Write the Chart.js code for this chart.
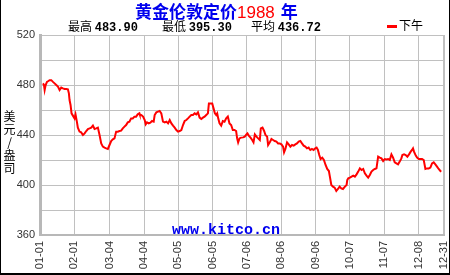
<!DOCTYPE html>
<html>
<head>
<meta charset="utf-8">
<script src="https://cdn.jsdelivr.net/npm/chart.js@4"></script>
<style>
  html, body { margin: 0; padding: 0; background: #fff; }
  #wrap { position: relative; width: 450px; height: 275px; overflow: hidden; font-family: "Noto Sans CJK SC", sans-serif; }
  #c { position: absolute; left: 0; top: 0; }
  .abs { position: absolute; white-space: nowrap; }
  #frame { position: absolute; left: 0; top: 0; width: 450px; height: 275px; box-sizing: border-box;
           border: 1px solid #000; border-top: none; border-bottom-width: 2px; pointer-events: none; }
  #title { left: 135px; top: 1px; font: bold 17px/20px "Noto Sans CJK SC"; color: #0000ee; }
  #title .yr { color: #ff0000; font-family: "Liberation Sans"; font-weight: normal; margin-right: 2px; }
  .stat { top: 19px; font: 12px/14px "Noto Sans CJK SC"; color: #000; }
  .stat b { font-family: "Liberation Mono"; font-weight: bold; }
  #legend { left: 387px; top: 18px; font: 12px/14px "Noto Sans CJK SC"; color: #000; }
  #legend i { display: inline-block; width: 10px; height: 3px; background: #ff0000; vertical-align: middle; margin-right: 2px; }
  #ytitle { left: 2px; top: 110px; font: 12px/14px "Noto Sans CJK SC"; color: #000;
            writing-mode: vertical-rl; text-orientation: upright; letter-spacing: 1px; }
  #mark { left: 172px; top: 223px; font: bold 15px/16px "Liberation Mono"; color: #0000ee; }
</style>
</head>
<body>
<div id="wrap">
  <canvas id="c" width="450" height="275" style="width:450px;height:275px"></canvas>
  <div class="abs" id="title">黄金伦敦定价<span class="yr">1988</span> 年</div>
  <div id="stats"></div>
  <div class="abs" id="legend"><i></i>下午</div>
  <div class="abs" id="ytitle">美元/盎司</div>
  <div class="abs" id="mark">www.kitco.cn</div>
  <div id="frame"></div>
</div>
<script>
// London gold fix, 1988 (PM). x = day of year (0 = Jan 1).
const days = [
  2.7, 3.6, 4.2, 5.1, 6.3, 7.2, 8.7, 10.2, 11.7, 13.2,
  14.7, 16.2, 17.7, 19.2, 20.7, 22.2, 23.7, 25.2, 26.1, 26.7,
  27.6, 28.5, 29.7, 31.2, 32.1, 33.3, 34.2, 35.7, 37.2, 38.8,
  40.3, 41.8, 43.3, 44.8, 46.3, 47.8, 49.3, 50.8, 52.3, 53.8,
  55.3, 56.8, 58.3, 59.8, 61.3, 62.8, 64.3, 65.8, 67.3, 68.8,
  70.3, 71.8, 73.3, 74.8, 76.3, 77.8, 79.3, 80.8, 82.3, 83.8,
  85.3, 86.8, 88.3, 89.8,
  90.1, 91.6, 93.1, 94.6, 95.5, 96.7, 98.2, 99.7, 101.2, 102.7,
  103.6, 105.1, 106.6, 108.1, 109.6, 111.1, 112.7, 114.2, 115.7, 117.2,
  118.7, 120.2, 121.7, 123.2, 124.7, 126.2, 127.7, 129.2, 130.7, 132.2,
  133.7, 135.2, 136.7, 138.2, 139.7, 141.2, 142.7, 144.2, 145.7, 147.2,
  148.7, 150.2, 151.7, 152.6, 153.8, 155.6, 156.8, 158, 159.2, 160.1,
  161, 162.2, 163.7, 165.2, 166.7, 168.2, 169.7, 171.2, 172.7, 174.2,
  175.7, 177.2, 178.1, 179, 180.2, 181.7,
  183.5, 185, 186.5, 187.4, 188.6, 190.2, 191.7, 192.9, 194.1, 195.6,
  197.1, 198.6, 199.5, 201, 202.5, 203.7, 205.2, 206.1, 207.6, 209.1,
  210.6, 212.1, 213.6, 215.1, 216.6, 218.1, 219.6, 220.5, 221.7, 223.2,
  224.7, 226.2, 227.7, 229.2, 230.7, 232.2, 233.7, 235.2, 236.7, 238.2,
  239.7, 241.2, 242.7, 244.2, 245.7, 247.2, 248.7, 249.9, 251.1, 252.3,
  253.5, 255, 256.5, 258, 259.5, 261, 261.9, 263.2, 264.7, 266.2,
  267.7, 269.2, 270.7, 272.2, 273.7,
  275.5, 277, 277.6, 278.5, 280, 281.5, 283, 284.5, 286, 287.5,
  289, 290.5, 292, 293.5, 295, 296.5, 298, 299.5, 301, 302.5,
  304, 305.5, 307, 308.5, 310, 311.5, 313, 314.5, 316, 317.5,
  319, 320.5, 322, 323.5, 325, 326.5, 327.4, 328.9, 330.4, 331.9,
  333.4, 334.9, 336.1, 337, 337.9, 339.5, 340.7, 342.2, 343.7, 345.2,
  346.7, 348.2, 349.7, 351.2, 352.7, 354.2, 355.7, 357.2, 358.7, 360.2,
  361.7, 362.6
];
const prices = [
  481.3, 480, 476, 480, 482.5, 483.0, 483.9, 483.9, 482.5, 481.3,
  480, 478.7, 476, 477.9, 477.3, 476.8, 476.8, 476.5, 473.3, 468,
  464, 457.3, 455.5, 453.3, 456.5, 450.7, 445.9, 442.7, 442.1, 440,
  441.3, 443.2, 444.8, 445.3, 445.9, 447.5, 444.8, 445.3, 445.9, 440,
  433.3, 430.7, 429.9, 429.3, 428.8, 432, 435.2, 436.5, 437.3, 442.7,
  442.7, 443.2, 443.5, 445.3, 446.7, 448, 450.1, 450.7, 453.3, 453.3,
  454.7, 454.7, 456.5, 457.3,
  456.5, 456, 454.7, 452, 448.5, 450.1, 449.3, 449.9, 451.2, 450.7,
  456, 458.1, 458.7, 459.2, 457.3, 450.7, 450.1, 450.7, 449.3, 452,
  449.3, 447.5, 445.9, 444, 442.7, 443.2, 444, 448, 451.2, 452,
  453.3, 454.7, 456, 456, 457.3, 456.5, 458.1, 453.9, 452.8, 453.9,
  454.7, 456, 457.3, 465.3, 465.3, 465.3, 461.3, 457.3, 456, 457.3,
  453.3, 449.3, 447.5, 451.2, 450.7, 453.3, 454.7, 449.3, 448, 444,
  444, 443.2, 437.3, 434.1, 437.3, 437.9,
  438.1, 438.7, 440.5, 441.3, 439.5, 437.9, 436, 434.1, 440.5, 438.7,
  437.3, 436, 445.3, 445.9, 443.2, 440, 438.7, 432, 434.1, 436.8,
  436, 435.2, 434.7, 433.3, 433.3, 432.5, 430.7, 426.1, 428.8, 434.1,
  432.5, 430.7, 432, 431.5, 432.5, 433.3, 434.7, 435.2, 433.3, 431.5,
  430.7, 429.3, 429.9, 428, 428.8, 428, 429.3, 429.9, 428, 424,
  420.8, 421.9, 420, 416, 412.8, 411.2, 406.7, 400, 398.7, 397.9,
  395.3, 396.8, 398.7, 397.3, 396.8,
  398.7, 400, 404, 405.3, 405.9, 406.7, 407.5, 406.7, 408.5, 410.7,
  413.3, 412, 412.8, 409.3, 407.5, 405.9, 408, 410.7, 412, 412.8,
  413.3, 422.7, 421.9, 421.3, 419.2, 420.8, 420.5, 420.8, 420, 424.5,
  421.9, 418.1, 417.3, 416.5, 418.7, 421.3, 424, 424.5, 424, 422.7,
  424.5, 426.7, 428, 429.3, 426.7, 423.5, 421.9, 420.8, 420.8, 420.8,
  420, 412.8, 413.3, 413.3, 413.9, 417.3, 418.1, 416.5, 414.7, 412.8,
  411.2, 410.7
];

// x ticks every 31 days, plus year end
const tickDays = [0, 31, 63, 94, 125, 156, 187, 218, 249, 280, 311, 342, 365];
const tickLabels = ["01-01", "02-01", "03-04", "04-04", "05-05", "06-05", "07-06",
                    "08-06", "09-06", "10-07", "11-07", "12-08", "12-31"];

const statNames = ["最高", "最低", "平均"];
const statValues = ["483.90", "395.30", "436.72"];
const statLeft = [68, 162, 251];

// header line: high / low / average
document.getElementById("stats").innerHTML = statNames
  .map((n, i) => `<div class="abs stat" style="left:${statLeft[i]}px">${n} <b>${statValues[i]}</b></div>`)
  .join("");

const tickFont = { family: "Liberation Sans", size: 11 };

new Chart(document.getElementById("c"), {
  type: "line",
  data: {
    datasets: [{
      label: "下午",
      data: days.map((d, i) => ({ x: d, y: prices[i] })),
      borderColor: "#ff0000",
      borderWidth: 2,
      pointRadius: 0,
      tension: 0,
      fill: false,
    }],
  },
  options: {
    responsive: false,
    animation: false,
    events: [],
    layout: { padding: { top: 35, right: 6, left: 0, bottom: 0 } },
    plugins: { legend: { display: false }, tooltip: { enabled: false } },
    scales: {
      x: {
        type: "linear",
        min: 0,
        max: 365,
        afterBuildTicks: (s) => { s.ticks = tickDays.map((v) => ({ value: v })); },
        // fixed height; drop the edge padding Chart.js reserves for rotated labels
        afterFit: (s) => { s.height = 40; s.paddingLeft = 0; s.paddingRight = 0; },
        grid: {
          color: "#c0c0c0",
          lineWidth: (c) => (c.index === tickDays.length - 1 ? 2 : 1),
          drawTicks: false,
        },
        border: { color: "#b8b8b8", width: 2 },
        ticks: {
          autoSkip: false,
          maxRotation: 90,
          minRotation: 90,
          padding: 6,
          color: "#333",
          font: tickFont,
          callback: (v, i) => tickLabels[i],
        },
      },
      y: {
        min: 360,
        max: 520,
        afterFit: (s) => { s.width = 40; },
        grid: { color: "#c0c0c0", drawTicks: false },
        border: { color: "#b8b8b8", width: 3 },
        ticks: {
          stepSize: 20,
          padding: 5,
          color: "#333",
          font: tickFont,
          callback: (v) => (v % 40 === 0 ? v : ""),
        },
      },
    },
  },
});
</script>
</body>
</html>
